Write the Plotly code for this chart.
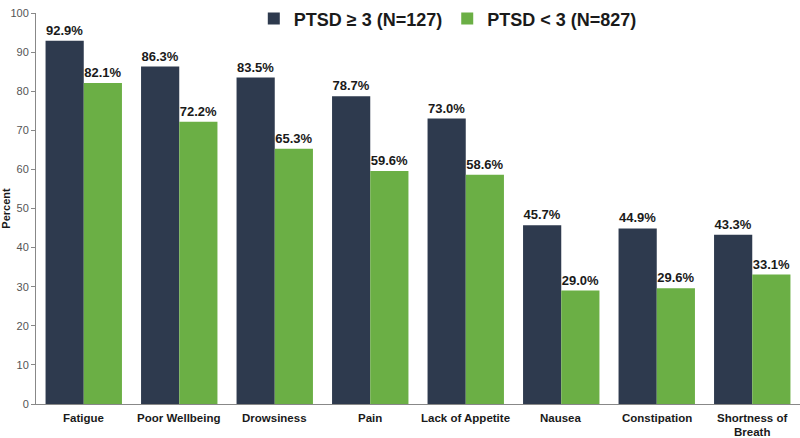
import plotly.graph_objects as go

categories = ["Fatigue", "Poor Wellbeing", "Drowsiness", "Pain", "Lack of Appetite",
              "Nausea", "Constipation", "Shortness of<br>Breath"]
ptsd_high = [92.9, 86.3, 83.5, 78.7, 73.0, 45.7, 44.9, 43.3]
ptsd_low = [82.1, 72.2, 65.3, 59.6, 58.6, 29.0, 29.6, 33.1]
series_names = ["PTSD \u2265 3 (N=127)", "PTSD < 3 (N=827)"]
y_ticks = list(range(0, 101, 10))

dark = "#2E3A4E"
green = "#6BAF45"
font_family = "Liberation Sans, Arial, sans-serif"

fig = go.Figure()
for name, vals, col in [(series_names[0], ptsd_high, dark), (series_names[1], ptsd_low, green)]:
    fig.add_trace(go.Bar(
        x=categories, y=vals, name=f"<b>{name}</b>", marker=dict(color=col, line=dict(width=0)),
        text=[f"<b>{v:.1f}%</b>" for v in vals], textposition="outside",
        textfont=dict(family=font_family, size=13, color="#1a1a1a"),
        cliponaxis=False,
    ))

# category labels as annotations (tight line spacing like the reference)
for cat in categories:
    for i, line in enumerate(cat.split("<br>")):
        fig.add_annotation(x=cat, xref="x", y=0, yref="paper", yanchor="middle",
                           yshift=-14 - 13.5 * i, showarrow=False, borderpad=0,
                           text=f"<b>{line}</b>",
                           font=dict(family=font_family, size=11.5, color="#1a1a1a"))

fig.update_layout(
    width=800, height=438,
    margin=dict(l=36, r=0, t=5, b=34),
    paper_bgcolor="white", plot_bgcolor="white",
    barmode="group", bargap=0.2, bargroupgap=0,
    font=dict(family=font_family, color="#333"),
    showlegend=True,
    legend=dict(orientation="h", x=0.539, xanchor="center", y=0.985, yanchor="middle",
                font=dict(family=font_family, size=18, color="#1a1a1a"),
                bgcolor="rgba(0,0,0,0)", traceorder="normal"),
    xaxis=dict(showline=True, linecolor="#888", linewidth=1, ticks="",
               showticklabels=False, showgrid=False, automargin=False),
    yaxis=dict(range=[0, 100], tickvals=y_ticks, showline=True, linecolor="#888", linewidth=1,
               ticks="outside", ticklen=4, tickcolor="#888",
               tickfont=dict(family=font_family, size=11, color="#555"),
               showgrid=False, zeroline=False, automargin=False,
               title=dict(text="<b>Percent</b>", font=dict(family=font_family, size=11, color="#1a1a1a"), standoff=4)),
)
fig.write_html("out.html", config={"displayModeBar": False},
               post_script="document.body.style.margin='0';document.body.style.padding='0';")
